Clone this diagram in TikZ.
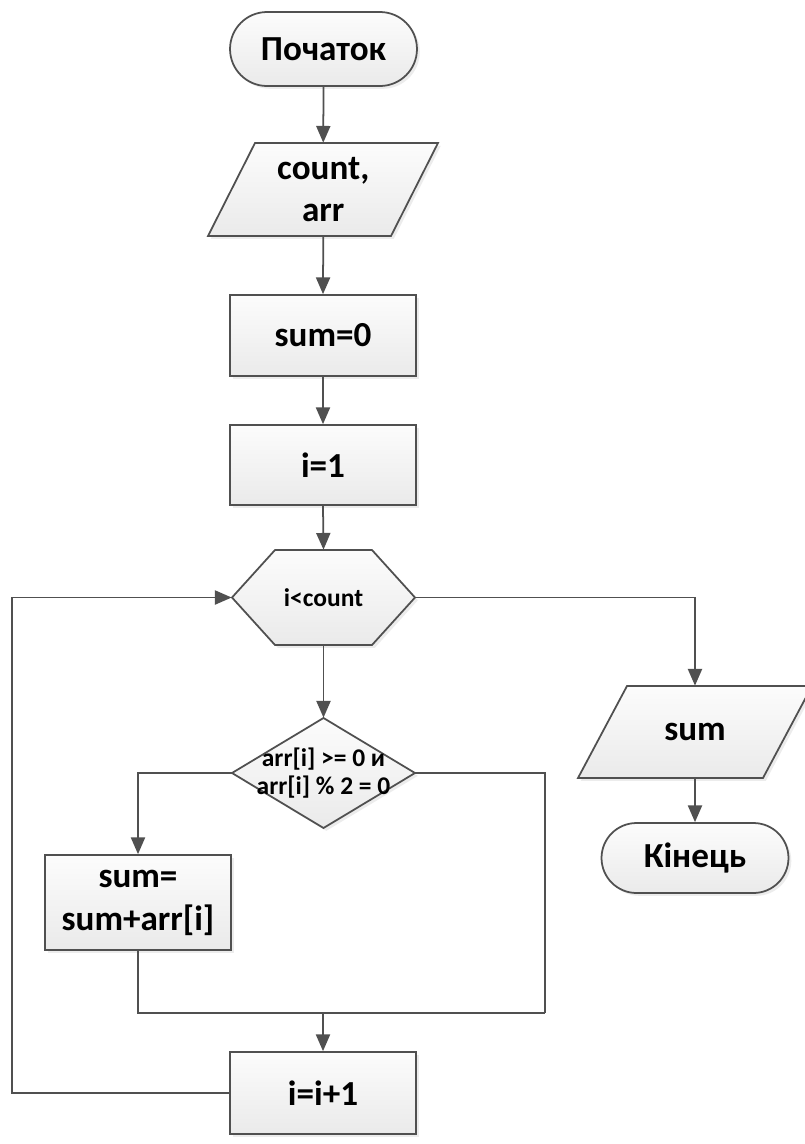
\documentclass[tikz,border=0pt]{standalone}
\usepackage{fontspec}
\setmainfont{Carlito}
\usetikzlibrary{arrows.meta,shapes.misc,shadows}
\definecolor{edge}{HTML}{505050}
\definecolor{filltop}{HTML}{FCFCFC}
\definecolor{fillbot}{HTML}{EAEAEA}
\tikzset{
  shp/.style={draw=edge, line width=1pt, top color=filltop, bottom color=fillbot,
    drop shadow={shadow xshift=1.6pt, shadow yshift=-1.6pt, opacity=0.15}},
  lbl/.style={font=\bfseries\fontsize{20}{24.4}\selectfont, align=center, inner sep=0pt},
  slbl/.style={font=\bfseries\fontsize{14.5}{16.4}\selectfont, align=center, inner sep=0pt},
  boxnode/.style={shp, lbl, rectangle, minimum width=3.72cm},
  termnode/.style={shp, lbl, rounded rectangle, minimum width=3.74cm},
  ghost/.style={rectangle, inner sep=0pt},
  conn/.style={draw=edge, line width=1pt},
  arr/.style={conn, -{Triangle[length=9.5pt,width=8pt]}},
}
\begin{document}
\begin{tikzpicture}[x=0.02cm, y=-0.02cm]
\useasboundingbox[fill=white] (0,0) rectangle (805,1144);

% start
\node[termnode, minimum height=1.48cm] (start) at (323.5,49) {Початок};

% input parallelogram
\path[shp] (255,143) -- (438,143) -- (391,236) -- (208,236) -- cycle;
\node[ghost, lbl, minimum width=4.6cm, minimum height=1.86cm] (io1) at (323.25,189.5) {count,\\arr};

% sum=0
\node[boxnode, minimum height=1.62cm] (sum0) at (323,335.5) {sum=0};

% i=1
\node[boxnode, minimum height=1.6cm] (i1) at (323,465) {i=1};

% hexagon
\path[shp] (232,597.5) -- (275,550) -- (372,550) -- (415,597.5) -- (372,645) -- (275,645) -- cycle;
\node[ghost, slbl, minimum width=3.66cm, minimum height=1.9cm] (hex) at (323.5,597.5) {i<count};

% diamond
\path[shp] (323.5,718) -- (415,773) -- (323.5,828) -- (232,773) -- cycle;
\node[ghost, slbl, minimum width=3.66cm, minimum height=2.2cm] (dia) at (323.5,773) {arr[i] >= 0 и\\arr[i] \% 2 = 0};

% output parallelogram
\path[shp] (627,686) -- (812,686) -- (763,778) -- (578,778) -- cycle;
\node[ghost, lbl, minimum width=4.68cm, minimum height=1.84cm] (sumout) at (695,732) {sum};

% end
\node[termnode, minimum height=1.4cm] (end) at (695,858) {Кінець};

% sum=sum+arr[i]
\node[boxnode, minimum height=1.9cm] (sumadd) at (138,902.5) {sum=\\sum+arr[i]};

% i=i+1
\node[boxnode, minimum height=1.64cm] (inc) at (323,1093) {i=i+1};

% connectors
\coordinate (mr) at (545,1013);
\coordinate (loop) at (12,800);

\draw[arr] (start.south) -- (io1.north);
\draw[arr] (io1.south) -- (sum0.north);
\draw[arr] (sum0.south) -- (i1.north);
\draw[arr] (i1.south) -- (hex.north);
\draw[arr] (hex.south) -- (dia.north);
\draw[arr] (hex.east) -| (sumout.north);
\draw[arr] (sumout.south) -- (end.north);
\draw[arr] (dia.west) -| (sumadd.north);
\draw[conn] (dia.east) -| (mr);
\draw[conn] (sumadd.south) |- (mr);
\draw[arr] (inc.north |- mr) -- (inc.north);
\draw[arr] (inc.west) -| (loop) |- (hex.west);
\end{tikzpicture}
\end{document}
